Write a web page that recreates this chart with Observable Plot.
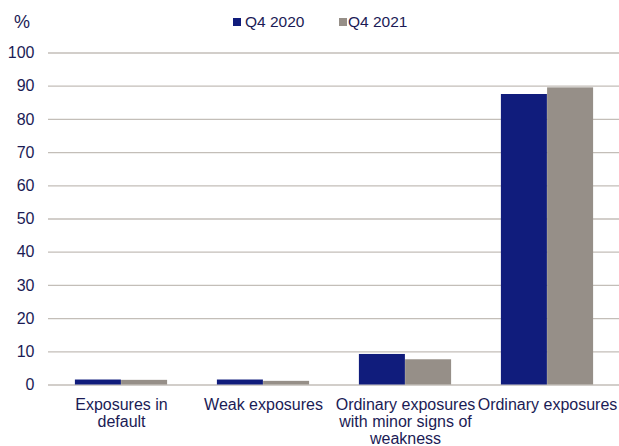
<!DOCTYPE html>
<html>
<head>
<meta charset="utf-8">
<script src="https://cdn.jsdelivr.net/npm/d3@7"></script>
<script src="https://cdn.jsdelivr.net/npm/@observablehq/plot@0.6"></script>
<style>
  html, body { margin: 0; padding: 0; background: #fff; }
  #wrap { position: relative; width: 619px; height: 446px; font-family: "Liberation Sans", Arial, sans-serif; color: #1b1b55; overflow: hidden; }
  #wrap svg { position: absolute; left: 0; top: 0; }
  .unit { position: absolute; left: 14px; top: 11px; font-size: 18px; line-height: 22px; }
  .legtext { position: absolute; top: 13px; font-size: 15.5px; line-height: 18px; white-space: nowrap; }
  .sw { position: absolute; top: 18px; width: 8px; height: 8px; }
</style>
</head>
<body>
<div id="wrap"></div>
<script>
const categories = ["Exposures in default", "Weak exposures", "Ordinary exposures with minor signs of weakness", "Ordinary exposures"];
const categoryLabels = ["Exposures in\ndefault", "Weak exposures", "Ordinary exposures\nwith minor signs of\nweakness", "Ordinary exposures"];
const series = ["Q4 2020", "Q4 2021"];
const q4_2020 = [1.5, 1.5, 9.2, 87.5];
const q4_2021 = [1.4, 1.1, 7.6, 89.5];
const yTicks = [0, 10, 20, 30, 40, 50, 60, 70, 80, 90, 100];
const colors = ["#101c7c", "#968f88"];

const d2020 = categories.map((c, i) => ({category: c, value: q4_2020[i]}));
const d2021 = categories.map((c, i) => ({category: c, value: q4_2021[i]}));
const labelOf = new Map(categories.map((c, i) => [c, categoryLabels[i]]));

const chart = Plot.plot({
  width: 619,
  height: 446,
  marginTop: 52.5,
  marginBottom: 61.5,
  marginLeft: 48,
  marginRight: 0,
  style: {fontFamily: "Liberation Sans, Arial, sans-serif", fontSize: "16px", color: "#1b1b55", background: "transparent", overflow: "visible"},
  x: {domain: categories, paddingInner: 0.677, paddingOuter: 0.3385},
  y: {domain: [0, 100]},
  marks: [
    Plot.gridY(yTicks, {stroke: "#c3beb8", strokeOpacity: 1, strokeWidth: 1.3}),
    Plot.barY(d2020, {x: "category", y: "value", fill: colors[0], dx: -23.1}),
    Plot.barY(d2021, {x: "category", y: "value", fill: colors[1], dx: 23.1}),
    Plot.axisY(yTicks, {tickSize: 0, tickPadding: 14, label: null, fontSize: 16}),
    Plot.axisX({tickSize: 0, tickPadding: 13, label: null, fontSize: 16, lineHeight: 1.05, tickFormat: d => labelOf.get(d)})
  ]
});

const wrap = document.getElementById("wrap");
wrap.appendChild(chart);

const unit = document.createElement("div");
unit.className = "unit";
unit.textContent = "%";
wrap.appendChild(unit);

const swLeft = [233, 339];
const txtLeft = [245, 348];
series.forEach((s, i) => {
  const sw = document.createElement("div");
  sw.className = "sw";
  sw.style.left = swLeft[i] + "px";
  sw.style.background = colors[i];
  wrap.appendChild(sw);
  const t = document.createElement("div");
  t.className = "legtext";
  t.style.left = txtLeft[i] + "px";
  t.textContent = s;
  wrap.appendChild(t);
});
</script>
</body>
</html>
